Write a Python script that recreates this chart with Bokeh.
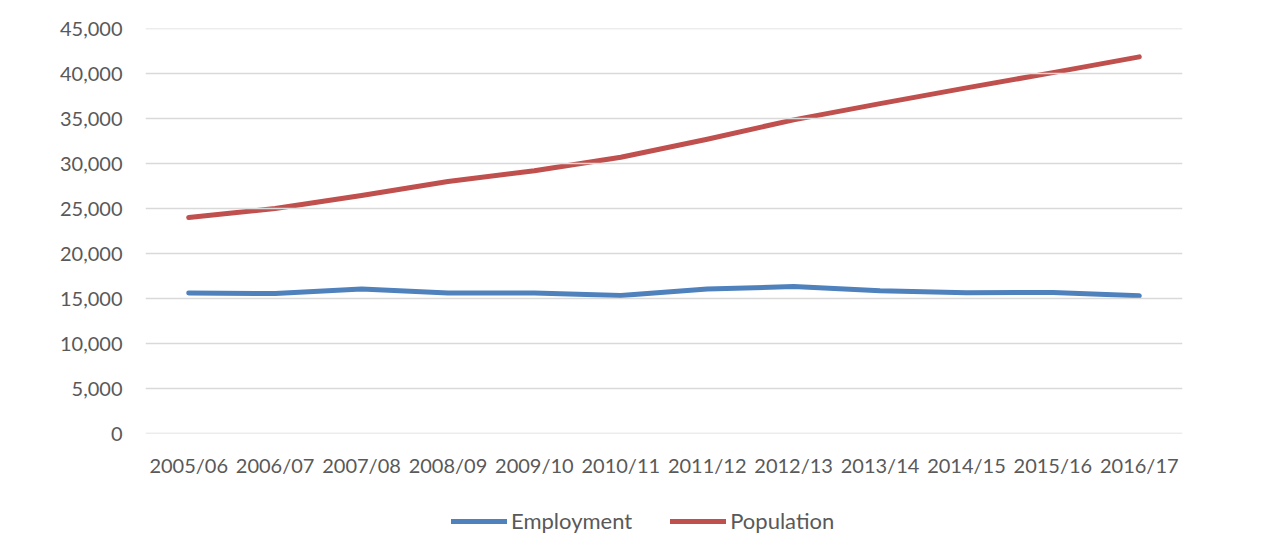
from bokeh.plotting import figure
from bokeh.layouts import column
from bokeh.models import FactorRange, Range1d, FixedTicker, NumeralTickFormatter, Legend, LegendItem, ColumnDataSource, Span
from bokeh.embed import file_html
from bokeh.resources import INLINE

years = ["2005/06", "2006/07", "2007/08", "2008/09", "2009/10", "2010/11",
         "2011/12", "2012/13", "2013/14", "2014/15", "2015/16", "2016/17"]
employment = [15600, 15550, 16050, 15600, 15600, 15330, 16050, 16330, 15850, 15630, 15680, 15300]
population = [24000, 25000, 26450, 28000, 29200, 30700, 32700, 34850, 36650, 38400, 40100, 41850]
y_ticks = [0, 5000, 10000, 15000, 20000, 25000, 30000, 35000, 40000, 45000]
series_names = ["Employment", "Population"]
series_colors = ["#4F81BD", "#C0504D"]

FONT = "Lato"
TXT = "#595959"

src = ColumnDataSource(dict(x=years, emp=employment, pop=population))

W, H1, H2 = 1272, 497, 38
p = figure(width=W, height=H1, x_range=FactorRange(*years, range_padding=0),
           y_range=Range1d(0, 45000), output_backend="svg", toolbar_location=None,
           min_border_left=145, min_border_right=W - 1182, min_border_top=28,
           min_border_bottom=H1 - 433)

p.outline_line_color = None
p.background_fill_color = "white"
p.border_fill_color = "white"

p.xgrid.grid_line_color = None
p.ygrid.grid_line_color = None
for t in y_ticks:
    p.add_layout(Span(location=t, dimension="width", line_color="#d9d9d9", line_width=1.5))

p.line("x", "emp", source=src, line_color=series_colors[0], line_width=5, line_cap="round", line_join="round")
p.line("x", "pop", source=src, line_color=series_colors[1], line_width=5, line_cap="round", line_join="round")

p.yaxis.ticker = FixedTicker(ticks=y_ticks)
p.yaxis.formatter = NumeralTickFormatter(format="0,0")
for ax in (p.xaxis, p.yaxis):
    ax.axis_line_color = None
    ax.major_tick_line_color = None
    ax.minor_tick_line_color = None
    ax.major_label_text_font = FONT
    ax.major_label_text_font_size = "20px"
    ax.major_label_text_color = TXT
p.yaxis.major_label_standoff = 17
p.xaxis.major_label_standoff = 13

# legend strip below the chart (its frame is aligned with the main frame)
q = figure(width=W, height=H2, x_range=Range1d(0, 1), y_range=Range1d(0, 1),
           output_backend="svg", toolbar_location=None,
           x_axis_location=None, y_axis_location=None,
           min_border_left=0, min_border_right=0, min_border_top=0, min_border_bottom=0)
q.outline_line_color = None
q.xgrid.grid_line_color = None
q.ygrid.grid_line_color = None
idx = list(range(len(years)))
items = []
for name, col, vals in zip(series_names, series_colors, [employment, population]):
    r = q.line(x=idx, y=vals, line_color=col, line_width=5, line_cap="round")  # out of view; legend only
    items.append(LegendItem(label=name, renderers=[r]))
legend = Legend(items=items, orientation="horizontal", location=(306, 1),
                label_text_font=FONT, label_text_font_size="22px", label_text_color=TXT,
                glyph_width=56, glyph_height=20, label_standoff=4, spacing=38,
                padding=0, margin=0, border_line_color=None, background_fill_alpha=0)
q.add_layout(legend)

open("out.html", "w").write(file_html(column(p, q, spacing=0), INLINE))
